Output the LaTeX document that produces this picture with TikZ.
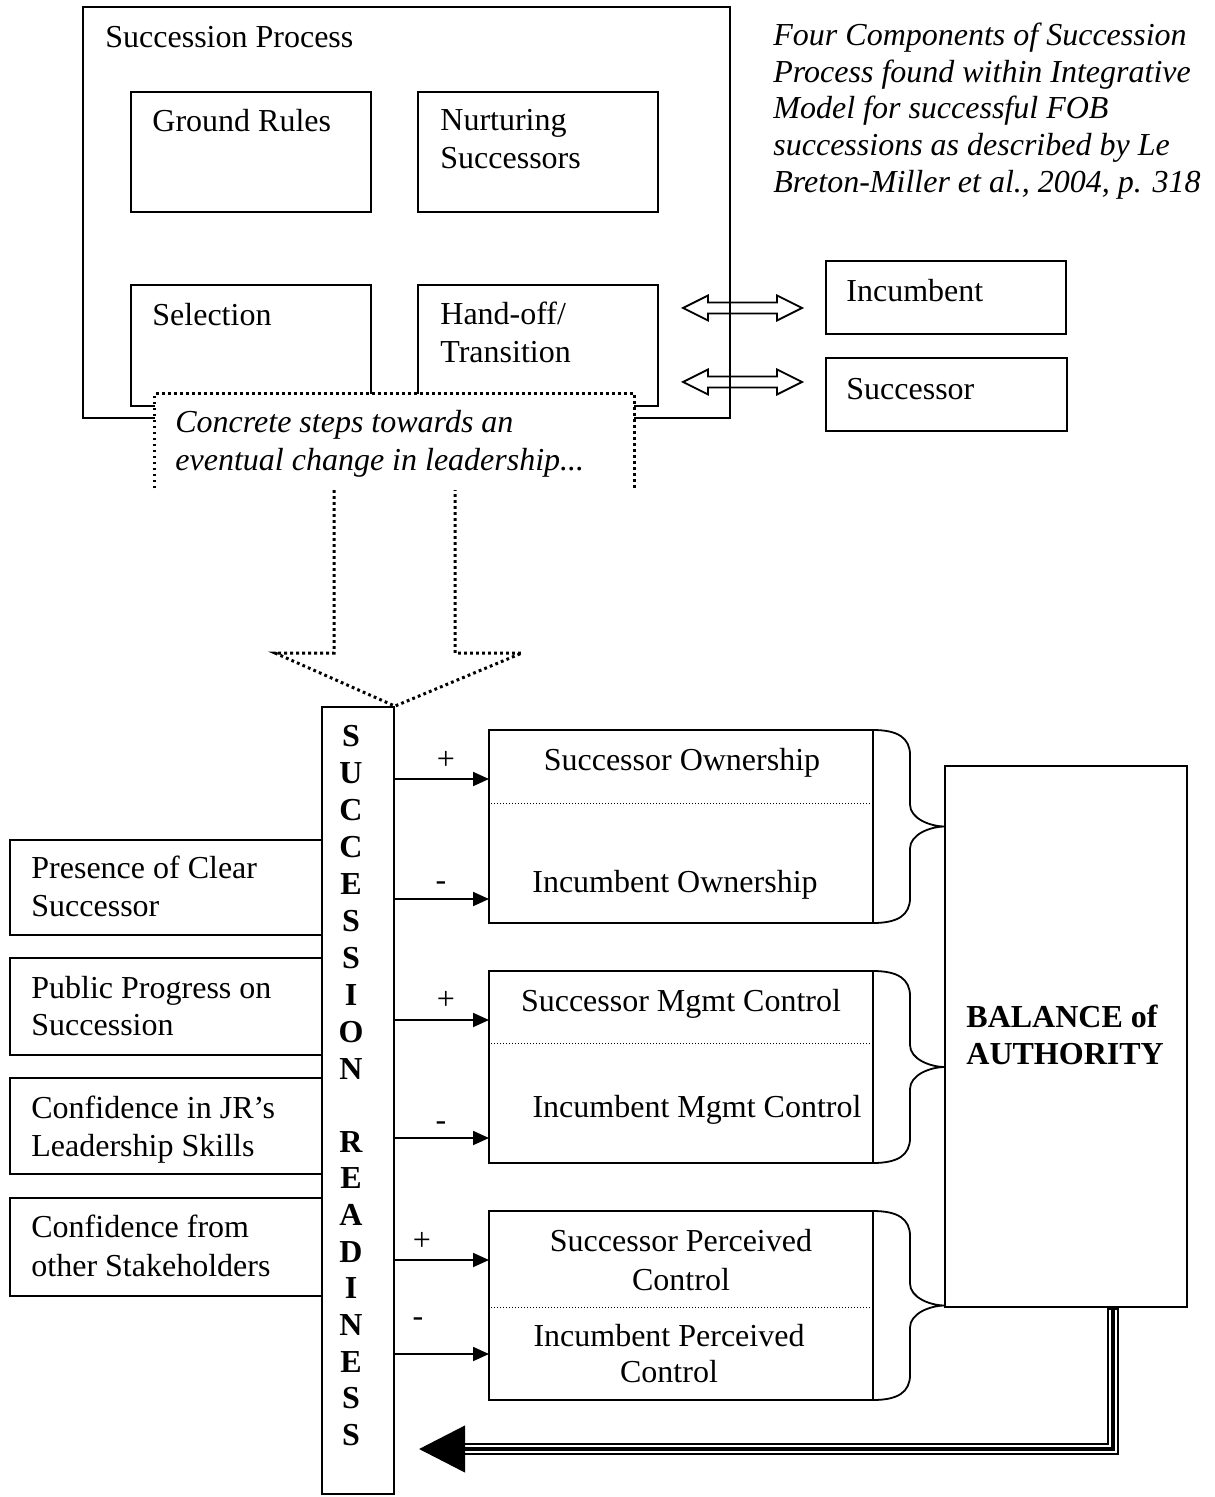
\documentclass[tikz,border=0pt]{standalone}
\usepackage{fontspec}
\setmainfont{Liberation Serif}
\usetikzlibrary{fit,arrows.meta,calc}
\begin{document}
\begin{tikzpicture}[x=0.5pt,y=-0.5pt,
  box/.style={draw, line width=0.9pt, inner sep=0pt},
  txt/.style={font=\fontsize{16}{19}\selectfont, inner sep=0pt, anchor=base west},
  itxt/.style={font=\fontsize{16}{19}\selectfont\itshape, inner sep=0pt, anchor=base west},
  ctxt/.style={font=\fontsize{16}{19}\selectfont, inner sep=0pt, anchor=base},
  btxt/.style={font=\fontsize{16}{19}\selectfont\bfseries, inner sep=0pt, anchor=base west},
  lett/.style={font=\fontsize{16}{19}\selectfont\bfseries, inner sep=0pt, anchor=base},
  dots/.style={line width=1.5pt, dash pattern=on 1.4pt off 1.6pt},
  fine/.style={line width=0.5pt, dash pattern=on 0.5pt off 1pt},
  ln/.style={line width=0.9pt},
  arr/.style={ln, -{Triangle[length=8pt,width=7pt]}}
]
\useasboundingbox (0,0) rectangle (1214,1497);

% ---------- Succession process ----------
\node[box, fit={(83,7) (730,418)}] (proc) {};
\node[txt] (proct) at (105,48) {Succession Process};
\node[box, fit={(131,92) (371,212)}] (gr) {};
\node[txt] (grt) at (152,132) {Ground Rules};
\node[box, fit={(418,92) (658,212)}] (ns) {};
\node[txt] (nst1) at (440,131) {Nurturing};
\node[txt] (nst2) at (440,169) {Successors};
\node[box, fit={(131,285) (371,406)}] (sel) {};
\node[txt] (selt) at (152,326) {Selection};
\node[box, fit={(418,285) (658,406)}] (ho) {};
\node[txt] (hot1) at (440,325) {Hand-off/};
\node[txt] (hot2) at (440,363) {Transition};

% callout
\node[fit={(155,394) (634,488)}, inner sep=0pt, fill=white] (callout) {};
\draw[dots] (callout.south west) -- (callout.north west) -- (callout.north east) -- (callout.south east);
\node[itxt] (cot1) at (175,433) {Concrete steps towards an};
\node[itxt] (cot2) at (175,471) {eventual change in leadership...};

% caption
\node[itxt] (cap1) at (773,46) {Four Components of Succession};
\node[itxt] (cap2) at (773,83) {Process found within Integrative};
\node[itxt] (cap3) at (773,119) {Model for successful FOB};
\node[itxt] (cap4) at (773,156) {successions as described by Le};
\node[itxt] (cap5) at (773,193) {Breton-Miller et al., 2004, p. 318};

% incumbent / successor
\node[box, fit={(826,261) (1066,334)}] (inc) {};
\node[txt] (inct) at (846,302) {Incumbent};
\node[box, fit={(826,358) (1067,431)}] (suc) {};
\node[txt] (suct) at (846,400) {Successor};

\foreach \c in {308,382} {
  \draw[ln, line join=miter] (683,\c) -- (708,{\c-12.5}) -- (708,{\c-5.5}) -- (777,{\c-5.5}) -- (777,{\c-12.5}) -- (802,\c)
    -- (777,{\c+12.5}) -- (777,{\c+5.5}) -- (708,{\c+5.5}) -- (708,{\c+12.5}) -- cycle;
}

% ---------- Succession readiness ----------
\node[box, fit={(322,707) (394,1494)}] (sr) {};
\foreach \l [count=\i from 0] in {S,U,C,C,E,S,S,I,O,N}
  \node[lett] (sa\i) at (351,{746+37*\i}) {\l};
\foreach \l [count=\i from 0] in {R,E,A,D,I,N,E,S,S}
  \node[lett] (sb\i) at (351,{1152+36.7*\i}) {\l};

% big dotted arrow
\draw[dots] (334,490) -- (334,653) -- (275,653) -- (sr.north east) -- (522,653) -- (455,653) -- (455,490);

% left boxes
\node[box, fit={(10,840) (322,935)}] (b1) {};
\node[txt] (b1t1) at (31,878) {Presence of Clear};
\node[txt] (b1t2) at (31,916) {Successor};
\node[box, fit={(10,958) (322,1055)}] (b2) {};
\node[txt] (b2t1) at (31,998) {Public Progress on};
\node[txt] (b2t2) at (31,1035) {Succession};
\node[box, fit={(10,1078) (322,1174)}] (b3) {};
\node[txt] (b3t1) at (31,1118) {Confidence in JR’s};
\node[txt] (b3t2) at (31,1156) {Leadership Skills};
\node[box, fit={(10,1198) (322,1296)}] (b4) {};
\node[txt] (b4t1) at (31,1237) {Confidence from};
\node[txt] (b4t2) at (31,1276) {other Stakeholders};

% right groups
\node[box, fit={(489,730) (873,923)}] (g1) {};
\node[box, fit={(489,971) (873,1163)}] (g2) {};
\node[box, fit={(489,1211) (873,1400)}] (g3) {};
\draw[fine] (g1.west |- 0,803) -- (g1.east |- 0,803);
\draw[fine] (g2.west |- 0,1043) -- (g2.east |- 0,1043);
\draw[fine] (g3.west |- 0,1307) -- (g3.east |- 0,1307);

\node[ctxt] (g1a) at (682,770) {Successor Ownership};
\node[ctxt] (g1b) at (675,892) {Incumbent Ownership};
\node[ctxt] (g2a) at (681,1011) {Successor Mgmt Control};
\node[ctxt] (g2b) at (697,1117) {Incumbent Mgmt Control};
\node[ctxt] (g3a1) at (681,1251) {Successor Perceived};
\node[ctxt] (g3a2) at (681,1290) {Control};
\node[ctxt] (g3b1) at (669,1346) {Incumbent Perceived};
\node[ctxt] (g3b2) at (669,1382) {Control};

\foreach \t/\b in {730/923, 971/1163, 1211/1400} {
  \pgfmathsetmacro\m{(\t+\b)/2}
  \draw[ln] (873,\t) .. controls (898,\t) and (910,{\t+8}) .. (910,{\t+25})
    -- (910,{\m-22}) .. controls (910,{\m-8}) and (930,\m) .. (945,\m)
    .. controls (930,\m) and (910,{\m+8}) .. (910,{\m+22})
    -- (910,{\b-25}) .. controls (910,{\b-8}) and (898,\b) .. (873,\b);
}

% arrows with signs
\coordinate (a1) at (489,779);
\coordinate (a2) at (489,899);
\coordinate (a3) at (489,1020);
\coordinate (a4) at (489,1138);
\coordinate (a5) at (489,1260);
\coordinate (a6) at (489,1354);
\foreach \k in {1,...,6} \draw[arr] (sr.east |- a\k) -- (a\k);
\node[ctxt] (p1) at (446,769) {+};
\node[ctxt] (m1) at (441,890) {-};
\node[ctxt] (p2) at (446,1009) {+};
\node[ctxt] (m2) at (441,1130) {-};
\node[ctxt] (p3) at (422,1250) {+};
\node[ctxt] (m3) at (418,1326) {-};

% balance
\node[box, fit={(945,766) (1187,1307)}] (bal) {};
\node[btxt] (balt1) at (966,1027) {BALANCE of};
\node[btxt] (balt2) at (966,1064) {AUTHORITY};

% triple-line return arrow
\coordinate (corner) at (1113,1449);
\coordinate (tipb) at (465,1449);
\coordinate (tipc) at (419,1449);
\draw[line width=6pt, line join=miter] (bal.south -| corner) -- (corner) -- (tipb);
\draw[white, line width=3.8pt, line join=miter] ($(bal.south -| corner)+(0,2)$) -- (corner) -- (tipb);
\draw[line width=2.2pt, line join=miter, -{Triangle[length=23pt,width=23pt]}] (bal.south -| corner) -- (corner) -- (tipc);

\end{tikzpicture}
\end{document}
